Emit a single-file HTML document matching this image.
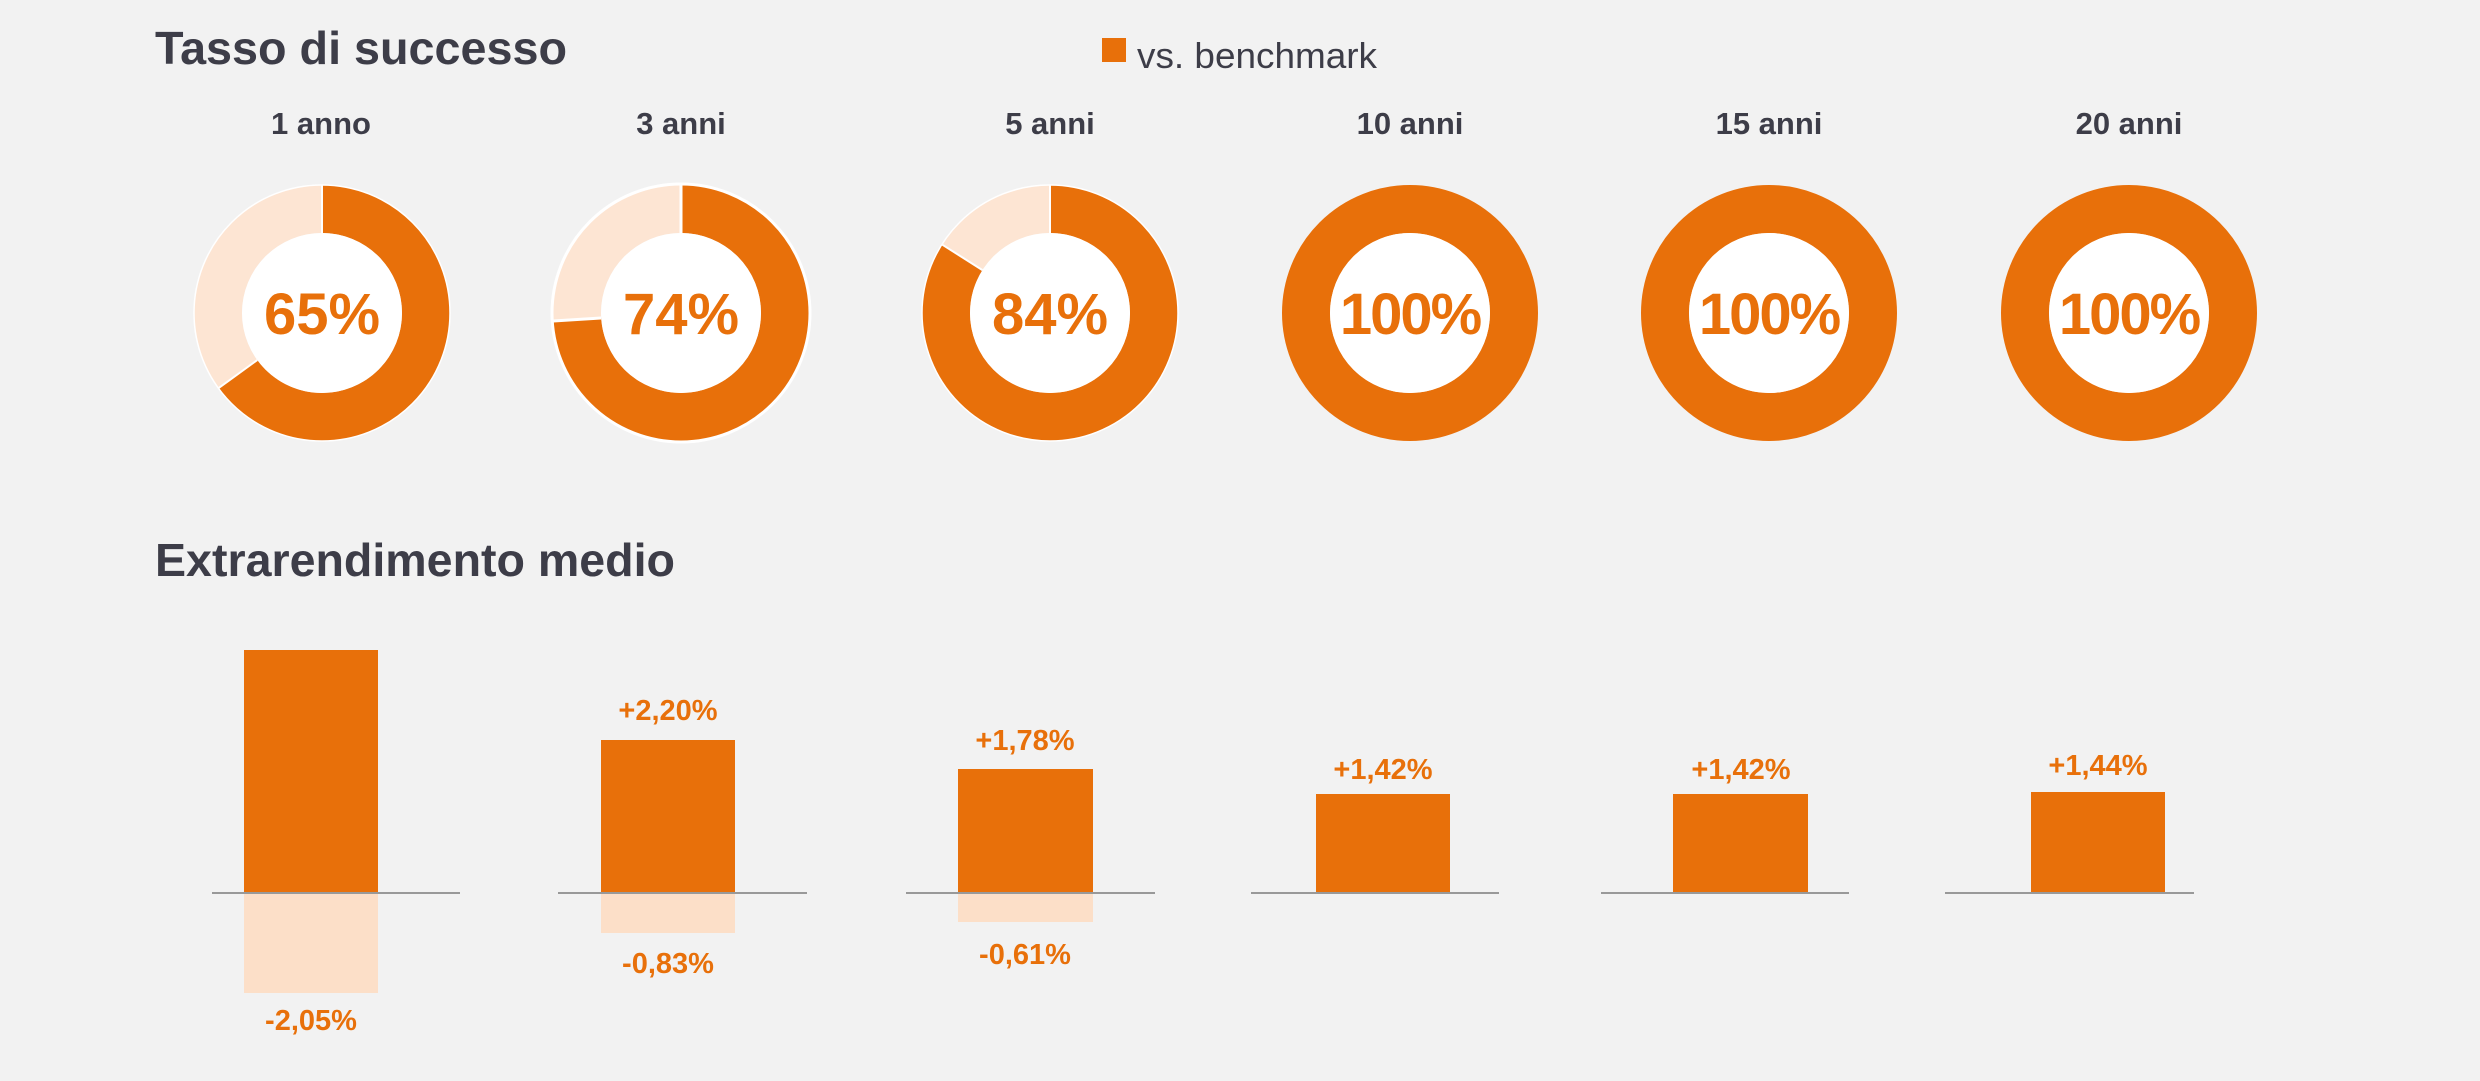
<!DOCTYPE html>
<html><head><meta charset="utf-8"><style>
html,body{margin:0;padding:0;background:#f2f2f2;}
svg{display:block;}
text{font-family:"Liberation Sans",sans-serif;}
</style></head><body>
<svg width="2480" height="1081" viewBox="0 0 2480 1081" xmlns="http://www.w3.org/2000/svg">
<rect width="2480" height="1081" fill="#f2f2f2"/>
<text x="155" y="64" font-size="46" font-weight="bold" fill="#3d3d48" textLength="412" lengthAdjust="spacingAndGlyphs">Tasso di successo</text>
<rect x="1102" y="38" width="24" height="24" fill="#e8700a"/>
<text x="1137" y="68" font-size="36" fill="#3d3d48" textLength="240" lengthAdjust="spacingAndGlyphs">vs. benchmark</text>

<g font-size="31" fill="#3d3d48" text-anchor="middle" font-weight="bold">
<text x="321" y="134">1 anno</text>
<text x="681" y="134">3 anni</text>
<text x="1050" y="134">5 anni</text>
<text x="1410" y="134">10 anni</text>
<text x="1769" y="134">15 anni</text>
<text x="2129" y="134">20 anni</text>
</g>

<g id="donuts">
<g transform="translate(322,313)">
<circle r="104" fill="none" stroke="#fde5d3" stroke-width="48"/>
<circle r="104" fill="none" stroke="#e8700a" stroke-width="48" stroke-dasharray="424.7 1000" transform="rotate(-90)"/>
<line x1="0" y1="-80" x2="0" y2="-128" stroke="#fff" stroke-width="2"/>
<line x1="0" y1="-80" x2="0" y2="-128" stroke="#fff" stroke-width="2" transform="rotate(234)"/>
<circle r="80" fill="#fff"/>
<circle r="128" fill="none" stroke="#fff" stroke-width="1.5"/>
</g>
<g transform="translate(681,313)">
<circle r="104" fill="none" stroke="#fde5d3" stroke-width="48"/>
<circle r="104" fill="none" stroke="#e8700a" stroke-width="48" stroke-dasharray="483.6 1000" transform="rotate(-90)"/>
<line x1="0" y1="-80" x2="0" y2="-128" stroke="#fff" stroke-width="3"/>
<line x1="0" y1="-80" x2="0" y2="-128" stroke="#fff" stroke-width="3" transform="rotate(266.4)"/>
<circle r="80" fill="#fff"/>
<circle r="129" fill="none" stroke="#fff" stroke-width="3"/>
</g>
<g transform="translate(1050,313)">
<circle r="104" fill="none" stroke="#fde5d3" stroke-width="48"/>
<circle r="104" fill="none" stroke="#e8700a" stroke-width="48" stroke-dasharray="548.9 1000" transform="rotate(-90)"/>
<line x1="0" y1="-80" x2="0" y2="-128" stroke="#fff" stroke-width="2"/>
<line x1="0" y1="-80" x2="0" y2="-128" stroke="#fff" stroke-width="2" transform="rotate(302.4)"/>
<circle r="80" fill="#fff"/>
<circle r="128" fill="none" stroke="#fff" stroke-width="1.5"/>
</g>
<g transform="translate(1410,313)">
<circle r="104" fill="none" stroke="#e8700a" stroke-width="48"/>
<circle r="80" fill="#fff"/>
</g>
<g transform="translate(1769,313)">
<circle r="104" fill="none" stroke="#e8700a" stroke-width="48"/>
<circle r="80" fill="#fff"/>
</g>
<g transform="translate(2129,313)">
<circle r="104" fill="none" stroke="#e8700a" stroke-width="48"/>
<circle r="80" fill="#fff"/>
</g>
</g>

<g font-size="58" font-weight="bold" fill="#e8700a" text-anchor="middle">
<text x="322" y="334">65%</text>
<text x="681" y="334">74%</text>
<text x="1050" y="334">84%</text>
<text x="1410" y="334" letter-spacing="-2">100%</text>
<text x="1769" y="334" letter-spacing="-2">100%</text>
<text x="2129" y="334" letter-spacing="-2">100%</text>
</g>

<text x="155" y="576" font-size="46" font-weight="bold" fill="#3d3d48" textLength="520" lengthAdjust="spacingAndGlyphs">Extrarendimento medio</text>

<g fill="#fcdfc8">
<rect x="244" y="893" width="134" height="100"/>
<rect x="601" y="893" width="134" height="40"/>
<rect x="958" y="893" width="135" height="29"/>
</g>
<g fill="#e8700a">
<rect x="244" y="650" width="134" height="243"/>
<rect x="601" y="740" width="134" height="153"/>
<rect x="958" y="769" width="135" height="124"/>
<rect x="1316" y="794" width="134" height="99"/>
<rect x="1673" y="794" width="135" height="99"/>
<rect x="2031" y="792" width="134" height="101"/>
</g>
<g stroke="#999" stroke-width="2">
<line x1="212" y1="893" x2="460" y2="893"/>
<line x1="558" y1="893" x2="807" y2="893"/>
<line x1="906" y1="893" x2="1155" y2="893"/>
<line x1="1251" y1="893" x2="1499" y2="893"/>
<line x1="1601" y1="893" x2="1849" y2="893"/>
<line x1="1945" y1="893" x2="2194" y2="893"/>
</g>
<g font-size="29" font-weight="bold" fill="#e8700a" text-anchor="middle">
<text x="668" y="720">+2,20%</text>
<text x="1025" y="750">+1,78%</text>
<text x="1383" y="779">+1,42%</text>
<text x="1741" y="779">+1,42%</text>
<text x="2098" y="775">+1,44%</text>
<text x="311" y="1030">-2,05%</text>
<text x="668" y="973">-0,83%</text>
<text x="1025" y="964">-0,61%</text>
</g>
</svg>
</body></html>
